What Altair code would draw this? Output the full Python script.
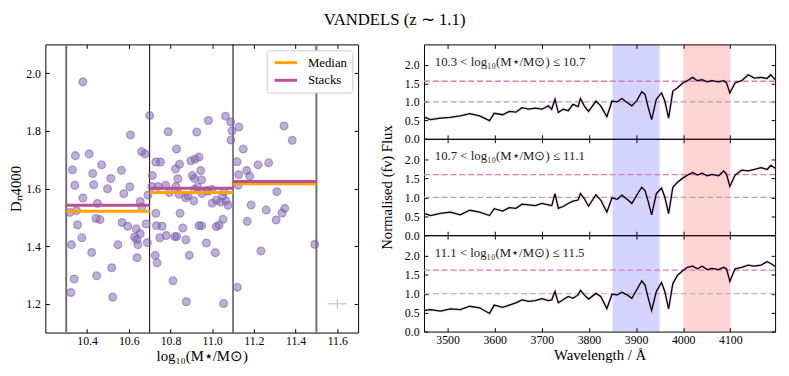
import altair as alt
import pandas as pd

FONT = "Liberation Serif"

# ---------------- left panel data ----------------
mass = [
    10.38, 10.608, 10.344, 10.41, 10.662, 10.678, 10.33, 10.47, 10.427, 10.565,
    10.341, 10.432, 10.514, 10.498, 10.605, 10.576, 10.38, 10.45, 10.655, 10.662,
    10.317, 10.349, 10.443, 10.462, 10.354, 10.568, 10.595, 10.636, 10.655, 10.628,
    10.639, 10.644, 10.683, 10.689, 10.375, 10.325, 10.548, 10.422, 10.64, 10.518,
    10.446, 10.338, 10.322, 10.523, 10.692,
    10.70, 11.064, 10.982, 11.089, 11.095, 11.09, 10.789, 10.926, 10.829, 10.73,
    10.752, 10.843, 10.824, 10.898, 10.918, 10.937, 10.945, 10.713, 10.836, 10.905,
    10.915, 10.95, 10.711, 10.741, 10.777, 10.826, 10.794, 10.841, 10.873, 10.912,
    10.951, 10.982, 11.0, 11.04, 11.066, 11.076, 10.915, 10.975, 10.998, 11.058,
    10.73, 10.733, 10.76, 10.749, 10.78, 10.821, 10.83, 10.859, 10.846, 10.874,
    10.89, 10.727, 10.736, 10.812, 10.876, 10.937, 11.052, 11.033, 11.02, 10.949,
    10.972, 11.015, 11.055, 10.885, 11.05, 10.93, 11.02,
    11.128, 11.345, 11.384, 11.149, 11.119, 11.22, 11.271, 11.166, 11.127, 11.18,
    11.124, 11.31, 11.187, 11.259, 11.348, 11.335, 11.307, 11.168, 11.234, 11.492,
    11.121,
]
dn4000 = [
    1.970, 1.786, 1.714, 1.720, 1.728, 1.720, 1.665, 1.682, 1.652, 1.663,
    1.611, 1.613, 1.635, 1.599, 1.606, 1.582, 1.567, 1.548, 1.555, 1.536,
    1.517, 1.523, 1.496, 1.492, 1.474, 1.482, 1.469, 1.460, 1.443, 1.431,
    1.423, 1.405, 1.477, 1.412, 1.429, 1.405, 1.405, 1.378, 1.360, 1.325,
    1.297, 1.286, 1.239, 1.223, 1.577,
    1.853, 1.851, 1.836, 1.831, 1.800, 1.768, 1.797, 1.796, 1.737, 1.692,
    1.692, 1.684, 1.668, 1.696, 1.702, 1.709, 1.662, 1.645, 1.634, 1.645,
    1.635, 1.630, 1.607, 1.607, 1.611, 1.607, 1.586, 1.580, 1.568, 1.557,
    1.583, 1.591, 1.549, 1.553, 1.557, 1.542, 1.597, 1.593, 1.597, 1.589,
    1.514, 1.471, 1.469, 1.429, 1.437, 1.433, 1.433, 1.463, 1.514, 1.422,
    1.368, 1.368, 1.342, 1.280, 1.207, 1.471, 1.493, 1.473, 1.468, 1.471,
    1.411, 1.377, 1.201, 1.575, 1.575, 1.605, 1.560,
    1.813, 1.817, 1.767, 1.737, 1.693, 1.682, 1.689, 1.662, 1.648, 1.643,
    1.611, 1.589, 1.543, 1.525, 1.531, 1.515, 1.491, 1.486, 1.383, 1.406,
    1.257,
]
bin_edges = [10.3, 10.7, 11.1, 11.5]
median_d4000 = [1.521, 1.586, 1.616]
stack_d4000 = [1.542, 1.601, 1.624]
err_x = [11.6]
err_y = [1.2]
err_dx = [0.046]
err_dy = [0.017]
left_xticks = [10.4, 10.6, 10.8, 11.0, 11.2, 11.4, 11.6]
left_yticks = [1.2, 1.4, 1.6, 1.8, 2.0]

# ---------------- right panel data ----------------
wave = [
    3452, 3464, 3485, 3506, 3527, 3547, 3568, 3589, 3599, 3617,
    3631, 3645, 3658, 3672, 3686, 3700, 3714, 3721, 3728, 3735,
    3745, 3756, 3766, 3777, 3782, 3790, 3799, 3815, 3825, 3838,
    3849, 3860, 3870, 3881, 3891, 3902, 3912, 3919, 3926, 3933,
    3943, 3954, 3961, 3969, 3978, 3988, 3999, 4009, 4020, 4030,
    4040, 4051, 4061, 4075, 4086, 4092, 4099, 4110, 4124, 4138,
    4151, 4165, 4178, 4186, 4195,
]
flux_low = [
    0.58, 0.52, 0.56, 0.58, 0.62, 0.68, 0.62, 0.49, 0.69, 0.65,
    0.74, 0.72, 0.84, 0.80, 0.83, 0.80, 0.89, 0.80, 1.07, 0.71,
    0.80, 0.76, 0.93, 0.87, 1.09, 0.89, 0.74, 1.02, 0.89, 0.60,
    1.02, 1.00, 1.09, 0.98, 0.89, 1.04, 1.27, 1.20, 0.84, 0.52,
    1.07, 1.24, 1.02, 0.56, 1.29, 1.38, 1.51, 1.57, 1.66, 1.57,
    1.60, 1.54, 1.57, 1.54, 1.57, 1.51, 1.24, 1.51, 1.57, 1.73,
    1.64, 1.66, 1.63, 1.73, 1.60,
]
flux_mid = [
    0.57, 0.52, 0.58, 0.61, 0.54, 0.66, 0.61, 0.52, 0.70, 0.64,
    0.73, 0.71, 0.82, 0.80, 0.78, 0.84, 0.80, 0.78, 1.10, 0.71,
    0.76, 0.84, 0.90, 0.93, 1.10, 0.97, 0.77, 1.07, 0.93, 0.61,
    0.99, 0.95, 1.06, 0.95, 0.84, 1.07, 1.27, 1.18, 0.88, 0.54,
    1.10, 1.25, 1.01, 0.57, 1.27, 1.40, 1.51, 1.59, 1.66, 1.59,
    1.64, 1.57, 1.61, 1.57, 1.70, 1.61, 1.29, 1.59, 1.72, 1.70,
    1.74, 1.79, 1.74, 1.85, 1.77,
]
flux_high = [
    0.56, 0.58, 0.54, 0.60, 0.58, 0.67, 0.63, 0.48, 0.70, 0.64,
    0.70, 0.76, 0.84, 0.80, 0.82, 0.87, 0.82, 0.84, 1.06, 0.76,
    0.84, 0.93, 0.88, 0.97, 1.09, 0.97, 0.86, 1.01, 0.93, 0.61,
    0.99, 0.97, 1.04, 0.97, 0.88, 1.12, 1.34, 1.23, 0.88, 0.56,
    1.06, 1.30, 1.06, 0.60, 1.27, 1.49, 1.61, 1.70, 1.73, 1.66,
    1.73, 1.64, 1.67, 1.64, 1.70, 1.66, 1.33, 1.66, 1.70, 1.76,
    1.73, 1.76, 1.85, 1.80, 1.72,
]
panel_labels = [
    "10.3 < log₁₀(M⋆/M⊙) ≤ 10.7",
    "10.7 < log₁₀(M⋆/M⊙) ≤ 11.1",
    "11.1 < log₁₀(M⋆/M⊙) ≤ 11.5",
]
stack_levels = [1.555, 1.605, 1.625]
unity_level = [1.0]
blue_band = [3850, 3950]
red_band = [4000, 4100]
right_xticks = [3500, 3600, 3700, 3800, 3900, 4000, 4100]
right_yticks = [0.0, 0.5, 1.0, 1.5, 2.0]

PURPLE = "#7d5faf"
ORANGE = "#FFA500"
MAGENTA = "#BE4E98"


def ax(orient, values, fmt, labels=True, title=None, lpad=5, tpad=2):
    return alt.Axis(
        orient=orient, values=values, format=fmt, labels=labels, title=title,
        offset=-4, tickSize=4, tickWidth=1, tickColor="black", domain=False,
        grid=False, labelFont=FONT, labelFontSize=12, labelColor="black",
        labelPadding=lpad, labelFlush=False, labelOverlap=False,
        titleFont=FONT, titleFontSize=15, titleFontWeight="normal",
        titleColor="black", titlePadding=tpad,
    )


# ---------------- left chart ----------------
xs = alt.Scale(domain=[10.2, 11.7], nice=False, zero=False)
ys = alt.Scale(domain=[1.1, 2.1], nice=False, zero=False)

df_pts = pd.DataFrame({"mass": mass, "d4000": dn4000})
pts = alt.Chart(df_pts).mark_circle(
    size=62, fill=PURPLE, fillOpacity=0.5, stroke=PURPLE, strokeOpacity=0.55,
    strokeWidth=1.3,
).encode(
    x=alt.X("mass:Q", scale=xs,
            axis=ax("bottom", left_xticks, ".1f", title="log₁₀(M⋆/M⊙)", lpad=3)),
    y=alt.Y("d4000:Q", scale=ys, axis=ax("left", left_yticks, ".1f", title="Dₙ4000")),
)

outer = alt.Chart(pd.DataFrame({"edge": [bin_edges[0], bin_edges[-1]]})).mark_rule(
    color="#707070", strokeWidth=2
).encode(x=alt.X("edge:Q", scale=xs,
                 axis=ax("top", left_xticks, ".1f", labels=False)))
inner = alt.Chart(pd.DataFrame({"edge": bin_edges[1:-1]})).mark_rule(
    color="black", strokeWidth=1
).encode(x=alt.X("edge:Q", scale=xs, axis=None))

df_lines = pd.DataFrame({
    "kind": ["Median"] * 3 + ["Stacks"] * 3,
    "lo": bin_edges[:-1] * 2,
    "hi": bin_edges[1:] * 2,
    "val": median_d4000 + stack_d4000,
})
hlines = alt.Chart(df_lines).mark_rule(strokeWidth=3).encode(
    x=alt.X("lo:Q", scale=xs, axis=None),
    x2="hi:Q",
    y=alt.Y("val:Q", scale=ys, axis=ax("right", left_yticks, ".1f", labels=False)),
    color=alt.Color(
        "kind:N",
        scale=alt.Scale(domain=["Median", "Stacks"], range=[ORANGE, MAGENTA]),
        legend=alt.Legend(
            title=None, orient="top-right", offset=6,
            symbolType="M-2,0H2", symbolSize=130, symbolStrokeWidth=3,
            symbolOffset=7, labelOffset=15,
            labelFont=FONT, labelFontSize=13, labelColor="black",
            fillColor="white", strokeColor="#cccccc",
            padding=5, cornerRadius=3, rowPadding=3,
        ),
    ),
)

df_err = pd.DataFrame({"x": err_x, "y": err_y, "dx": err_dx, "dy": err_dy})
err_h = alt.Chart(df_err).transform_calculate(
    x0="datum.x - datum.dx", x1="datum.x + datum.dx"
).mark_rule(color="#c8c8c8", strokeWidth=1.2).encode(
    x=alt.X("x0:Q", scale=xs, axis=None), x2="x1:Q",
    y=alt.Y("y:Q", scale=ys, axis=None),
)
err_v = alt.Chart(df_err).transform_calculate(
    y0="datum.y - datum.dy", y1="datum.y + datum.dy"
).mark_rule(color="#c8c8c8", strokeWidth=1.2).encode(
    x=alt.X("x:Q", scale=xs, axis=None),
    y=alt.Y("y0:Q", scale=ys, axis=None), y2="y1:Q",
)

left = alt.layer(outer, inner, err_h, err_v, pts, hlines).resolve_axis(
    x="independent", y="independent"
).properties(width=318, height=293)


# ---------------- right panels ----------------
def panel(flux, label, level, bottom, ytitle, h):
    wx = alt.Scale(domain=[3450, 4195], nice=False, zero=False)
    fy = alt.Scale(domain=[0, 2.55], nice=False, zero=False)
    blue = alt.Chart(pd.DataFrame({"lo": [blue_band[0]], "hi": [blue_band[1]]})).mark_rect(
        color="#0000ff", opacity=0.17
    ).encode(x=alt.X("lo:Q", scale=wx, axis=ax("top", right_xticks, "d", labels=False)),
             x2="hi:Q")
    red = alt.Chart(pd.DataFrame({"lo": [red_band[0]], "hi": [red_band[1]]})).mark_rect(
        color="#ff0000", opacity=0.17
    ).encode(x=alt.X("lo:Q", scale=wx, axis=None), x2="hi:Q")
    grey = alt.Chart(pd.DataFrame({"v": unity_level})).mark_rule(
        color="#a8a8a8", strokeDash=[6, 3], strokeWidth=1.2
    ).encode(y=alt.Y("v:Q", scale=fy, axis=ax("right", right_yticks, ".1f", labels=False)))
    pink = alt.Chart(pd.DataFrame({"v": [level]})).mark_rule(
        color="#d67ab8", strokeDash=[6, 3], strokeWidth=1.3
    ).encode(y=alt.Y("v:Q", scale=fy, axis=None))
    df = pd.DataFrame({"wave": wave, "flux": flux})
    under = alt.Chart(df).mark_line(color="#e36fc0", strokeWidth=2.6, opacity=0.35).encode(
        x=alt.X("wave:Q", scale=wx, axis=None), y=alt.Y("flux:Q", scale=fy, axis=None))
    xaxis = ax("bottom", right_xticks, "d", labels=bottom,
               title="Wavelength / Å" if bottom else None, lpad=3)
    line = alt.Chart(df).mark_line(color="black", strokeWidth=1.3).encode(
        x=alt.X("wave:Q", scale=wx, axis=xaxis),
        y=alt.Y("flux:Q", scale=fy,
                axis=ax("left", right_yticks, ".1f", title=ytitle, lpad=5, tpad=10)),
    )
    txt = alt.Chart(pd.DataFrame({"label": [label]})).mark_text(
        align="left", baseline="middle", font=FONT, fontSize=13, color="#222222"
    ).encode(text="label:N", x=alt.value(11), y=alt.value(18))
    return alt.layer(blue, red, grey, pink, under, line, txt).resolve_axis(
        x="independent", y="independent"
    ).properties(width=357, height=h)


p1 = panel(flux_low, panel_labels[0], stack_levels[0], False, None, 96)
p2 = panel(flux_mid, panel_labels[1], stack_levels[1], False, "Normalised (fν) Flux", 98)
p3 = panel(flux_high, panel_labels[2], stack_levels[2], True, None, 98)
right = alt.vconcat(p1, p2, p3, spacing=0, bounds="flush")

chart = alt.hconcat(left, right, spacing=20).resolve_scale(
    color="independent"
).resolve_legend(color="independent").properties(
    padding=0,
    title=alt.TitleParams(
        "VANDELS (z ∼ 1.1)", font=FONT, fontSize=17, fontWeight="normal",
        color="black", anchor="middle", offset=12, dy=-2,
    ),
).configure_view(stroke="black", strokeWidth=1)

chart.save("out.html", embed_options={"renderer": "svg", "actions": False})
